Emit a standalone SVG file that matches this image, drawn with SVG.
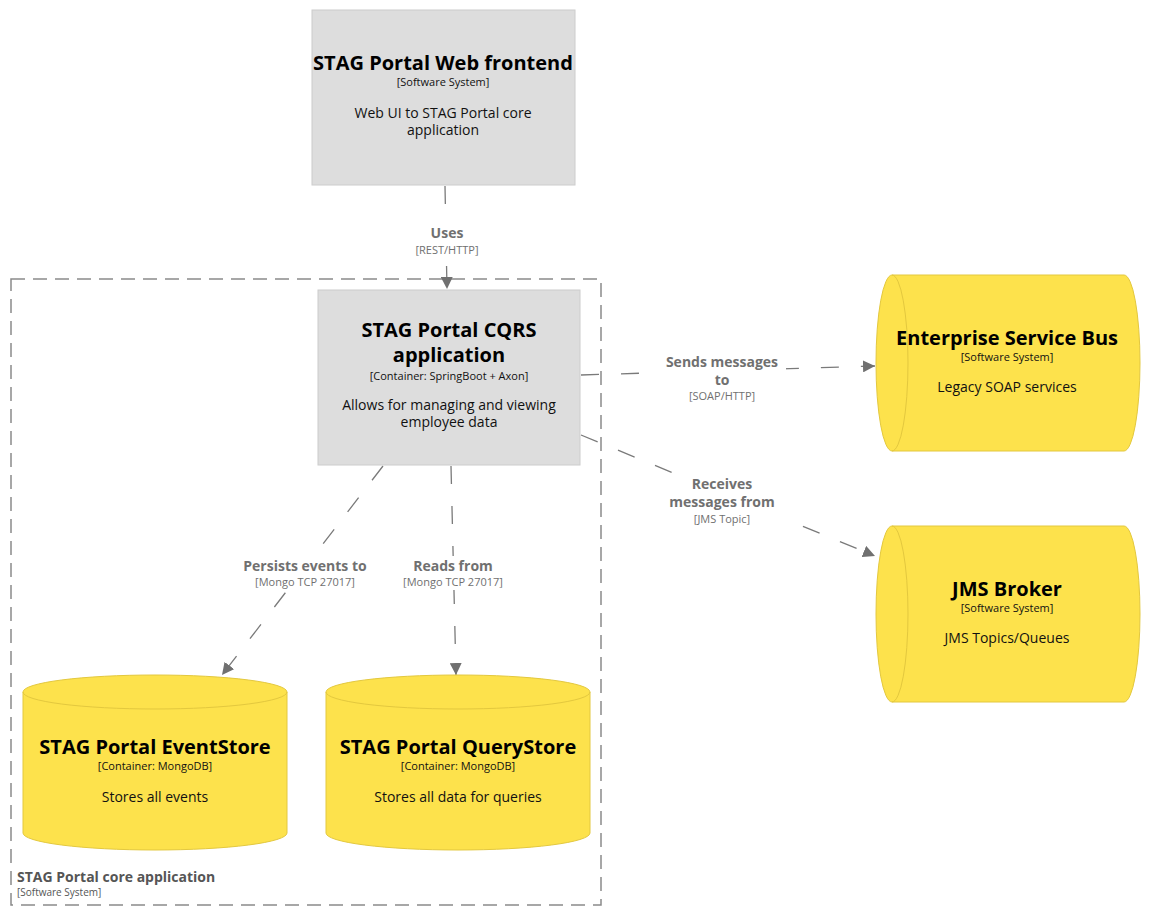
<svg xmlns="http://www.w3.org/2000/svg" width="1162" height="908" viewBox="0 0 1162 908">
<defs>
<style>
text{font-family:"Open Sans","Noto Sans","Liberation Sans",sans-serif;text-anchor:middle}
.box{fill:#dddddd;stroke:#cccccc;stroke-width:1}
.cyl{fill:#fde24c;stroke:#e3c83e;stroke-width:1}
.t{font-weight:bold;font-size:20px;fill:#000}
.s{font-size:11px;fill:#111;font-weight:normal}
.d{font-size:14px;fill:#111}
.lt{font-weight:bold;font-size:14px;fill:#707070}
.ls{font-size:11px;fill:#707070;font-weight:normal}
.edge{fill:none;stroke:#7a7a7a;stroke-width:1.3;stroke-dasharray:18 22}
.lbg{fill:#ffffff}
</style>
<marker id="arr" viewBox="0 0 10 10" refX="10" refY="5" markerWidth="12" markerHeight="12" markerUnits="userSpaceOnUse" orient="auto">
<path d="M0,0 L10,5 L0,10 Z" fill="#707070"/>
</marker>
</defs>
<rect width="1162" height="908" fill="#ffffff"/>

<g id="boundary">
<rect x="11" y="279" width="590" height="626" fill="none" stroke="#8a8a8a" stroke-width="1.5" stroke-dasharray="14 8"/>
<text x="17" y="882" style="text-anchor:start;font-weight:bold;font-size:14px;fill:#555">STAG Portal core application<tspan x="17" dy="14" style="font-weight:normal;font-size:10px">[Software System]</tspan></text>
</g>

<g id="connectors">
<line class="edge" x1="445" y1="186" x2="447" y2="289" marker-end="url(#arr)"/>
<line class="edge" x1="581" y1="375" x2="875" y2="366" marker-end="url(#arr)"/>
<line class="edge" x1="581" y1="435" x2="875" y2="556" marker-end="url(#arr)"/>
<line class="edge" x1="383" y1="466" x2="222" y2="675" marker-end="url(#arr)"/>
<line class="edge" x1="451" y1="466" x2="456" y2="675" marker-end="url(#arr)"/>
<rect class="lbg" x="408" y="222" width="78" height="38"/>
<rect class="lbg" x="658" y="352" width="128" height="54"/>
<rect class="lbg" x="660" y="474" width="124" height="56"/>
<rect class="lbg" x="236" y="556" width="140" height="34"/>
<rect class="lbg" x="398" y="556" width="110" height="34"/>
<text class="lt" x="447" y="238">Uses<tspan class="ls" x="447" dy="16">[REST/HTTP]</tspan></text>
<text class="lt" x="722" y="367">Sends messages<tspan x="722" dy="17.5">to</tspan><tspan class="ls" x="722" dy="15.5">[SOAP/HTTP]</tspan></text>
<text class="lt" x="722" y="489">Receives<tspan x="722" dy="17.5">messages from</tspan><tspan class="ls" x="722" dy="16">[JMS Topic]</tspan></text>
<text class="lt" x="305" y="571">Persists events to<tspan class="ls" x="305" dy="15">[Mongo TCP 27017]</tspan></text>
<text class="lt" x="453" y="571">Reads from<tspan class="ls" x="453" dy="15">[Mongo TCP 27017]</tspan></text>
</g>

<g id="web-frontend">
<rect class="box" x="312" y="10" width="263" height="175"/>
<text class="t" x="443" y="70">STAG Portal Web frontend</text>
<text class="s" x="443" y="86">[Software System]</text>
<text class="d" x="443" y="118">Web UI to STAG Portal core<tspan x="443" dy="17">application</tspan></text>
</g>

<g id="cqrs-app">
<rect class="box" x="318" y="290" width="262" height="175"/>
<text class="t" x="449" y="337">STAG Portal CQRS<tspan x="449" dy="25">application</tspan><tspan class="s" x="449" dy="18">[Container: SpringBoot + Axon]</tspan></text>
<text class="d" x="449" y="410">Allows for managing and viewing<tspan x="449" dy="17">employee data</tspan></text>
</g>

<g id="esb">
<path class="cyl" d="M892,275 L1124,275 A16,88 0 0 1 1124,451 L892,451 A16,88 0 0 1 892,275 Z"/>
<path class="cyl" d="M892,275 A16,88 0 0 1 892,451" style="fill:none"/>
<text class="t" x="1007" y="345">Enterprise Service Bus</text>
<text class="s" x="1007" y="361">[Software System]</text>
<text class="d" x="1007" y="392">Legacy SOAP services</text>
</g>

<g id="jms">
<path class="cyl" d="M892,526 L1124,526 A16,88 0 0 1 1124,702 L892,702 A16,88 0 0 1 892,526 Z"/>
<path class="cyl" d="M892,526 A16,88 0 0 1 892,702" style="fill:none"/>
<text class="t" x="1007" y="596">JMS Broker</text>
<text class="s" x="1007" y="612">[Software System]</text>
<text class="d" x="1007" y="643">JMS Topics/Queues</text>
</g>

<g id="eventstore">
<path class="cyl" d="M23,692 A132,17 0 0 1 287,692 L287,833 A132,17 0 0 1 23,833 Z"/>
<path class="cyl" d="M23,692 A132,17 0 0 0 287,692" style="fill:none"/>
<text class="t" x="155" y="754">STAG Portal EventStore</text>
<text class="s" x="155" y="770">[Container: MongoDB]</text>
<text class="d" x="155" y="802">Stores all events</text>
</g>

<g id="querystore">
<path class="cyl" d="M326,692 A132,17 0 0 1 590,692 L590,833 A132,17 0 0 1 326,833 Z"/>
<path class="cyl" d="M326,692 A132,17 0 0 0 590,692" style="fill:none"/>
<text class="t" x="458" y="754">STAG Portal QueryStore</text>
<text class="s" x="458" y="770">[Container: MongoDB]</text>
<text class="d" x="458" y="802">Stores all data for queries</text>
</g>
</svg>
